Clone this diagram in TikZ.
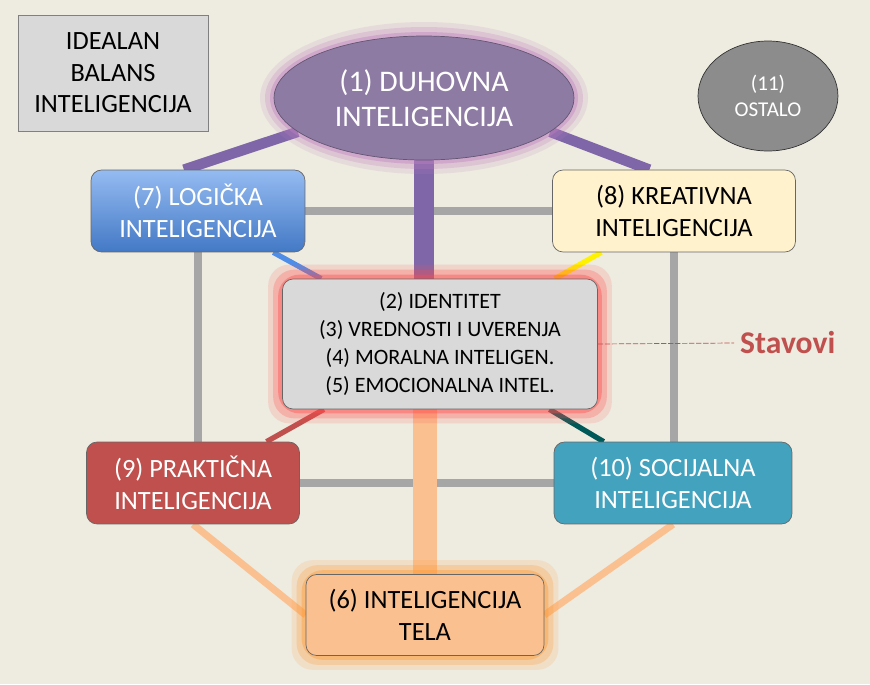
\documentclass[tikz,border=0pt]{standalone}
\usepackage{fontspec}
\setmainfont{Carlito}
\usetikzlibrary{positioning,shapes.geometric,backgrounds}
\definecolor{bgc}{HTML}{EEEBE0}
\definecolor{purp}{HTML}{8E7BA3}
\definecolor{purpline}{HTML}{7F66A8}
\definecolor{lgray}{HTML}{A6A6A6}
\definecolor{bluebox}{HTML}{4F8EE8}
\definecolor{yelbox}{HTML}{FFF2CC}
\definecolor{redbox}{HTML}{C0504D}
\definecolor{tealbox}{HTML}{43A2BD}
\definecolor{peach}{HTML}{FAC090}
\tikzset{
  box/.style={draw=black!60, rounded corners=6pt, align=center, font=\fontsize{15}{18}\selectfont,
    minimum width=#1},
  box/.default=4.3cm,
  link/.style={line width=4.5pt, lgray},
}
\begin{document}
\begin{tikzpicture}[x=0.02cm,y=-0.02cm]
\useasboundingbox (0,0) rectangle (870,684);
% nodes
\node[draw=black!50, fill=black!15, align=center, minimum width=3.8cm, minimum height=2.32cm,
  font=\fontsize{15}{18}\selectfont] (ideal) at (113,73) {IDEALAN\\BALANS\\INTELIGENCIJA};
\node[ellipse, draw=purp!70!black, fill=purp, text=white, minimum width=6cm, minimum height=2.48cm,
  align=center, font=\fontsize{17}{20}\selectfont] (n1) at (424,98) {(1) DUHOVNA\\INTELIGENCIJA};
\node[ellipse, draw=black!80, fill=black!45, text=white, minimum width=2.8cm, minimum height=2.2cm,
  align=center, font=\fontsize{12}{15}\selectfont] (n11) at (768,96) {(11)\\OSTALO};
\node[box=4.28cm, top color=bluebox!60, bottom color=bluebox!85!black, text=white, minimum height=1.64cm] (n7) at (198,211) {(7) LOGIČKA\\INTELIGENCIJA};
\node[box=4.86cm, fill=yelbox, minimum height=1.64cm] (n8) at (674,211) {(8) KREATIVNA\\INTELIGENCIJA};
\node[box=6.3cm, fill=black!15, minimum height=2.6cm, font=\fontsize{12.5}{16}\selectfont] (n2) at (440,344)
  {(2) IDENTITET\\(3) VREDNOSTI I UVERENJA\\(4) MORALNA INTELIGEN.\\(5) EMOCIONALNA INTEL.};
\node[box=4.26cm, fill=redbox, text=white, minimum height=1.64cm] (n9) at (193,483) {(9) PRAKTIČNA\\INTELIGENCIJA};
\node[box=4.76cm, fill=tealbox, text=white, minimum height=1.64cm] (n10) at (673,483) {(10) SOCIJALNA\\INTELIGENCIJA};
\node[box=4.76cm, fill=peach, minimum height=1.62cm] (n6) at (425,615) {(6) INTELIGENCIJA\\TELA};
\node[text=redbox, font=\fontsize{18}{20}\bfseries\selectfont, anchor=west] (stav) at (734,343) {Stavovi};
\draw[redbox, dashed, dash pattern=on 3pt off 1pt] (n2.east) -- (stav.west);
\begin{pgfonlayer}{background}
  \fill[bgc] (0,0) rectangle (870,684);
  % gray frame
  \draw[link] (n7.east) -- (n8.west);
  \draw[link] (n9.east) -- (n10.west);
  \draw[link] (n7.south) -- (n7.south |- n9.north);
  \draw[link] (n8.south) -- (n8.south |- n10.north);
  % colored links
  \draw[purpline, line width=6pt] (n1.195) -- ([xshift=-8]n7.north);
  \draw[purpline, line width=6pt] (n1.-15) -- ([xshift=-14]n8.north);
  \draw[purpline, line width=11pt] (n1.south) -- (n2.north -| n1.south);
  \draw[bluebox, line width=3pt] (n7) -- (n2);
  \draw[yellow, line width=3pt] (n8) -- (n2);
  \draw[redbox, line width=3pt] (n9) -- (n2);
  \draw[teal!70!black, line width=3pt] (n10) -- (n2);
  \draw[peach, line width=14pt] (n2.south -| n6.north) -- (n6.north);
  \draw[peach, line width=4pt] (n9.south) -- (n6.west);
  \draw[peach, line width=4pt] (n10.south) -- (n6.east);
  % glows
  \foreach \g/\o in {14/0.15,9/0.25,4/0.4}{
    \fill[red!70, opacity=\o, rounded corners=12pt] ([shift={(-\g,-\g)}]n2.north west) rectangle ([shift={(\g,\g)}]n2.south east);
    \fill[orange!80, opacity=\o, rounded corners=12pt] ([shift={(-\g,-\g)}]n6.north west) rectangle ([shift={(\g,\g)}]n6.south east);
    \fill[violet!50, opacity=\o] (n1) ellipse ({150+\g} and {-62-\g});
  }
\end{pgfonlayer}
\end{tikzpicture}
\end{document}
